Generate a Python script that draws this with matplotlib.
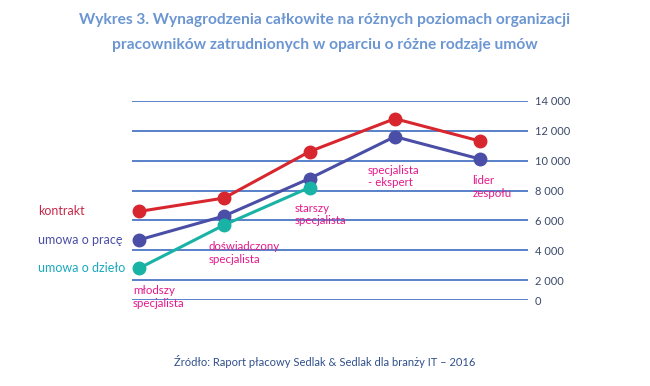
import numpy as np
import matplotlib
matplotlib.use('Agg')
import matplotlib.pyplot as plt
from matplotlib.ticker import FuncFormatter

plt.rcParams['font.family'] = ['Lato', 'DejaVu Sans']

levels = ['młodszy\nspecjalista', 'doświadczony\nspecjalista', 'starszy\nspecjalista',
          'specjalista\n- ekspert', 'lider\nzespołu']
series_names = ['kontrakt', 'umowa o pracę', 'umowa o dzieło']
kontrakt = [6600, 7500, 10600, 12800, 11300]
umowa_o_prace = [4700, 6300, 8800, 11600, 10100]
umowa_o_dzielo = [2800, 5700, 8200]
yticks = [0, 2000, 4000, 6000, 8000, 10000, 12000, 14000]

RED, INDIGO, TEAL = '#d8262f', '#4a4ea6', '#19b3a6'
GRID, TICK, MAGENTA = '#3d6cc0', '#3b4a6b', '#e5198a'
TITLE, SOURCE = '#6b96d2', '#2f4f8a'
LABEL_COLS = ['#c42a48', INDIGO, '#1aa9bd']


# the original squeezes the 0-2000 band: piecewise linear scale
def fwd(y):
    y = np.asarray(y, dtype=float)
    return np.where(y < 2000, y * 2 / 3, y - 2000 / 3)


def inv(v):
    v = np.asarray(v, dtype=float)
    return np.where(v < 4000 / 3, v * 1.5, v + 2000 / 3)


fig = plt.figure(figsize=(6.5, 3.86), dpi=100)
ax = fig.add_axes([132 / 650, 1 - 300.3 / 386, 396 / 650, 199.6 / 386])
ax.set_yscale('function', functions=(fwd, inv))
ax.set_xlim(-0.08, 4.56)
ax.set_ylim(0, 14000)

for t in yticks:
    ax.axhline(t, color=GRID, lw=1.2, zorder=1)

x = np.arange(len(levels))
for vals, col in [(kontrakt, RED), (umowa_o_prace, INDIGO), (umowa_o_dzielo, TEAL)]:
    ax.plot(x[:len(vals)], vals, color=col, lw=2.2, marker='o', ms=9,
            zorder=3, clip_on=False)

# series names to the left of the first points
for name, vals, col in zip(series_names, [kontrakt, umowa_o_prace, umowa_o_dzielo], LABEL_COLS):
    ax.annotate(name, xy=(0, vals[0]), xytext=(-101, 0), textcoords='offset pixels',
                ha='left', va='center', fontsize=9, color=col, annotation_clip=False)

# level labels under the points
anchors = [umowa_o_dzielo[0], umowa_o_dzielo[1], umowa_o_dzielo[2],
           umowa_o_prace[3], umowa_o_prace[4]]
offsets = [(-6, -17), (-16, -16), (-15, -15), (-27, -28), (-8, -16)]
for i, (lab, yv, off) in enumerate(zip(levels, anchors, offsets)):
    ax.annotate(lab, xy=(i, yv), xytext=off, textcoords='offset pixels',
                ha='left', va='top', fontsize=8.3, color=MAGENTA,
                linespacing=1.2, zorder=4, annotation_clip=False)

ax.set_yticks(yticks)
ax.yaxis.set_major_formatter(FuncFormatter(lambda v, p: f'{int(v):,}'.replace(',', ' ')))
ax.yaxis.tick_right()
ax.tick_params(axis='y', length=0, pad=5, labelsize=8, labelcolor=TICK)
ax.set_xticks([])
ax.minorticks_off()
for s in ax.spines.values():
    s.set_visible(False)

fig.text(0.5, 1 - 20 / 386, 'Wykres 3. Wynagrodzenia całkowite na różnych poziomach organizacji',
         ha='center', va='center', fontsize=11.2, fontweight='bold', color=TITLE)
fig.text(0.5, 1 - 45 / 386, 'pracowników zatrudnionych w oparciu o różne rodzaje umów',
         ha='center', va='center', fontsize=11.2, fontweight='bold', color=TITLE)
fig.text(0.5, 1 - 362 / 386, 'Źródło: Raport płacowy Sedlak & Sedlak dla branży IT – 2016',
         ha='center', va='center', fontsize=8, color=SOURCE)

fig.savefig('out.png')
